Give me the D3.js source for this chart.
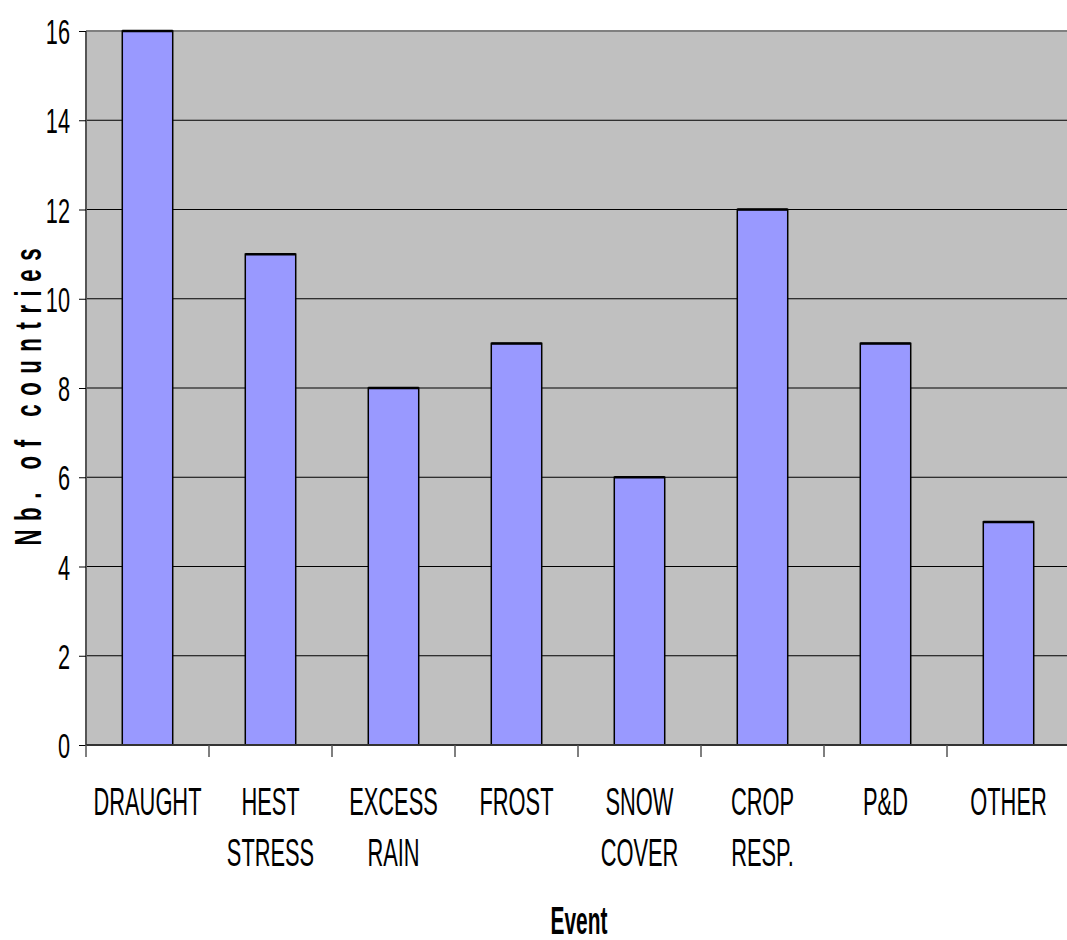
<!DOCTYPE html>
<html><head><meta charset="utf-8">
<script src="https://cdn.jsdelivr.net/npm/d3@7"></script>
<style>body{margin:0;background:#fff;overflow:hidden}svg{display:block}text{font-family:"Liberation Sans",Arial,sans-serif}</style>
</head><body>
<script>
const categories = [["DRAUGHT"],["HEST","STRESS"],["EXCESS","RAIN"],["FROST"],["SNOW","COVER"],["CROP","RESP."],["P&D"],["OTHER"]];
const values = [16, 11, 8, 9, 6, 12, 9, 5];
const yTicks = [0, 2, 4, 6, 8, 10, 12, 14, 16];
const yTitle = "Nb. of countries";
const xTitle = "Event";

const W = 1067, H = 940;
const m = {left: 86, right: -3, top: 31, bottom: 195};
const svg = d3.select("body").append("svg").attr("width", W).attr("height", H);
const ids = categories.map((c, i) => i);
const x = d3.scaleBand().domain(ids).range([m.left, W - m.right]).paddingInner(0).paddingOuter(0);
const y = d3.scaleLinear().domain([0, 16]).range([H - m.bottom, m.top]);

// plot background
svg.append("rect").attr("x", m.left).attr("y", m.top).attr("width", W - m.right - m.left)
  .attr("height", y(0) - m.top).attr("fill", "#C0C0C0");

// gridlines
svg.append("g").selectAll("line").data(yTicks.filter(t => t > 0 && t < 16)).join("line")
  .attr("x1", m.left).attr("x2", W - m.right).attr("y1", d => y(d)).attr("y2", d => y(d))
  .attr("stroke", "#000").attr("stroke-width", 1);
// top border
svg.append("line").attr("x1", m.left).attr("x2", W).attr("y1", y(16)).attr("y2", y(16))
  .attr("stroke", "#808080").attr("stroke-width", 2);

// bars
const bw = x.bandwidth() * 0.41;
svg.append("g").selectAll("rect").data(values).join("rect")
  .attr("x", (d, i) => x(i) + x.bandwidth() / 2 - bw / 2)
  .attr("y", d => y(d)).attr("width", bw).attr("height", d => y(0) - y(d))
  .attr("fill", "#9999FF").attr("stroke", "#000").attr("stroke-width", 1.5);
svg.append("g").selectAll("line").data(values).join("line")
  .attr("x1", (d, i) => x(i) + x.bandwidth() / 2 - bw / 2)
  .attr("x2", (d, i) => x(i) + x.bandwidth() / 2 + bw / 2)
  .attr("y1", d => y(d)).attr("y2", d => y(d)).attr("stroke", "#000").attr("stroke-width", 2.5);

// y axis
const ya = svg.append("g").attr("transform", `translate(${m.left},0)`)
  .call(d3.axisLeft(y).tickValues(yTicks).tickSize(7).tickPadding(9).tickFormat(d3.format("d")));
ya.select(".domain").attr("stroke", "#555").attr("stroke-width", 2).attr("d", `M0,${y(0)}V${m.top}`);
ya.selectAll(".tick line").attr("stroke", "#000");
ya.selectAll(".tick text").attr("font-size", 35).attr("fill", "#000").attr("dy", "0.36em")
  .attr("font-family", '"Liberation Sans",Arial,sans-serif')
  .attr("transform", function() { const xx = +d3.select(this).attr("x"); return `translate(${xx},0) scale(0.62,1)`; })
  .attr("x", 0);

// x axis
const xa = svg.append("g");
xa.append("line").attr("x1", m.left).attr("x2", W).attr("y1", y(0)).attr("y2", y(0))
  .attr("stroke", "#333").attr("stroke-width", 2);
xa.selectAll(".xt").data(d3.range(categories.length)).join("line").attr("class", "xt")
  .attr("x1", i => x(i)).attr("x2", i => x(i)).attr("y1", y(0)).attr("y2", y(0) + 12)
  .attr("stroke", "#555").attr("stroke-width", 1.5);
const lbl = xa.selectAll(".xl").data(categories).join("g").attr("class", "xl")
  .attr("transform", (d, i) => `translate(${x(i) + x.bandwidth() / 2},815) scale(0.56,1)`);
lbl.selectAll("text").data(d => d).join("text")
  .attr("x", 0).attr("y", (d, j) => j * 51).attr("text-anchor", "middle")
  .attr("font-size", 39).attr("fill", "#000").text(d => d);

// titles
svg.append("text").attr("transform", `translate(579,934) scale(0.55,1)`).attr("text-anchor", "middle")
  .attr("font-size", 38).attr("font-weight", "bold").text(xTitle);
svg.append("text").attr("transform", `translate(41,397) rotate(-90) scale(0.6,1)`).attr("text-anchor", "middle")
  .attr("font-size", 37).attr("font-weight", "bold")
  .attr("textLength", 495).attr("lengthAdjust", "spacing").text(yTitle);
</script>
</body></html>
